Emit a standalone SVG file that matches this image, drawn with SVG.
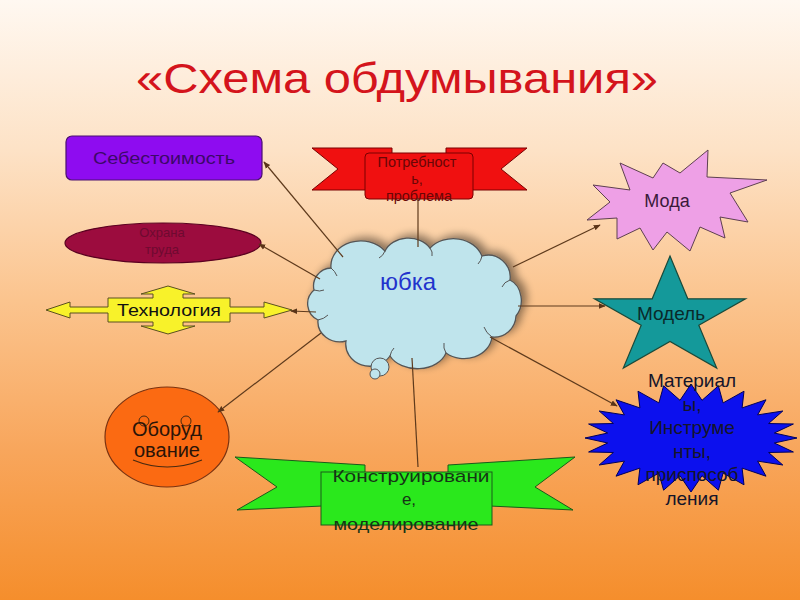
<svg xmlns="http://www.w3.org/2000/svg" width="800" height="600" viewBox="0 0 800 600">
<defs>
  <linearGradient id="bg" x1="0" y1="0" x2="0" y2="1">
    <stop offset="0" stop-color="#fff8f1"/>
    <stop offset="0.25" stop-color="#fde2c6"/>
    <stop offset="0.5" stop-color="#fbc48e"/>
    <stop offset="0.75" stop-color="#f8a65c"/>
    <stop offset="1" stop-color="#f58e2c"/>
  </linearGradient>
  <filter id="shadow" x="-20%" y="-20%" width="140%" height="140%">
    <feGaussianBlur in="SourceAlpha" stdDeviation="4"/>
    <feOffset dx="5" dy="-3" result="b"/>
    <feComponentTransfer><feFuncA type="linear" slope="0.45"/></feComponentTransfer>
    <feMerge><feMergeNode/><feMergeNode in="SourceGraphic"/></feMerge>
  </filter>
  <marker id="arr" viewBox="0 0 10 10" refX="9" refY="5" markerWidth="7" markerHeight="7" orient="auto" markerUnits="userSpaceOnUse">
    <path d="M0,1 L10,5 L0,9 Z" fill="#5a3418"/>
  </marker>
  <style>
    text { font-family: "Liberation Sans", Arial, sans-serif; text-anchor: middle; }
    .title { font-size: 43px; fill: #d4141c; }
    .edge { stroke: #5e3a1c; stroke-width: 1.2; fill: none; }
    .arrow { marker-end: url(#arr); }
  </style>
</defs>
<rect x="0" y="0" width="800" height="600" fill="url(#bg)"/>
<text class="title" x="397" y="93" textLength="522" lengthAdjust="spacingAndGlyphs">«Схема обдумывания»</text>

<g id="sebestoimost">
  <rect x="66" y="136" width="196" height="44" rx="6" fill="#8e0cf0" stroke="#4a1070" stroke-width="1.2"/>
  <text x="164" y="164" font-size="17" fill="#3c0868" textLength="142" lengthAdjust="spacingAndGlyphs">Себестоимость</text>
</g>

<g id="ohrana">
  <ellipse cx="163" cy="243" rx="98" ry="20" fill="#9c0c3e" stroke="#5a0020" stroke-width="1.2"/>
  <text x="162" y="237" font-size="13" fill="#6e0a30">Охрана</text>
  <text x="162" y="254" font-size="13" fill="#6e0a30">труда</text>
</g>

<g id="tehnologiya">
  <polygon points="46,310 70,302 70,307 108,307 108,298 153,298 153,294 141,294 168,286 195,294 183,294 183,298 230,298 230,307 264,307 264,302 292,310 264,318 264,313 230,313 230,322 183,322 183,326 195,326 168,334 141,326 153,326 153,322 108,322 108,313 70,313 70,318" fill="#f8f22a" stroke="#5a5020" stroke-width="1"/>
  <text x="169" y="316" font-size="16" fill="#111" textLength="104" lengthAdjust="spacingAndGlyphs">Технология</text>
</g>

<g id="potrebnost">
  <polygon points="312,148 392,148 392,190 312,190 338,169" fill="#f01010" stroke="#7a0000" stroke-width="1"/>
  <polygon points="446,148 527,148 501,169 527,190 446,190" fill="#f01010" stroke="#7a0000" stroke-width="1"/>
  <rect x="365" y="153" width="108" height="46" rx="4" fill="#f01010" stroke="#7a0000" stroke-width="1"/>
  <text x="417" y="167" font-size="14.5" fill="#6a0606">Потребност</text>
  <text x="417" y="184" font-size="14.5" fill="#6a0606">ь,</text>
  <text x="419" y="201" font-size="14.5" fill="#6a0606">проблема</text>
</g>

<g id="moda">
  <polygon points="593,185 630,190 620,163 653,178 663,163 680,173 708,150 707,177 767,180 730,193 748,222 720,217 725,238 700,227 690,251 667,232 653,250 640,228 617,239 617,218 587,220 610,202" fill="#eea0e6" stroke="#5e4050" stroke-width="1"/>
  <text x="667" y="207" font-size="18" fill="#3a1a3a">Мода</text>
</g>

<g id="model">
  <polygon points="670,256 687.8,298.8 745.5,298.8 698.8,325.2 716.7,368 670,341.5 623.3,368 641.2,325.2 594.5,298.8 652.2,298.8" fill="#14999a" stroke="#1a4a3a" stroke-width="1.2"/>
  <text x="671" y="320" font-size="19" fill="#0a2a2a">Модель</text>
</g>

<g id="materialy">
  <polygon points="797,438 774.3,443 793.4,452 768.6,452.5 782.8,465 757.6,461.1 766,476.2 742.1,468.1 744,484.8 723.1,473.1 718.4,490.2 702,475.7 691,492 680,475.7 663.6,490.2 658.9,473.1 638,484.8 639.9,468.1 616,476.2 624.4,461.1 599.2,465 613.4,452.5 588.6,452 607.7,443 585,438 607.7,433 588.6,424 613.4,423.5 599.2,411 624.4,414.9 616,399.8 639.9,407.9 638,391.2 658.9,402.9 663.6,385.8 680,400.3 691,384 702,400.3 718.4,385.8 723.1,402.9 744,391.2 742.1,407.9 766,399.8 757.6,414.9 782.8,411 768.6,423.5 793.4,424 774.3,433" fill="#0c10ee" stroke="#00005a" stroke-width="1"/>
  <g font-size="19" fill="#15152a">
    <text x="692" y="387">Материал</text>
    <text x="692" y="410.6">ы,</text>
    <text x="692" y="434.2">Инструме</text>
    <text x="692" y="457.8">нты,</text>
    <text x="692" y="481.4">приспособ</text>
    <text x="692" y="505">ления</text>
  </g>
</g>

<g id="oborudovanie">
  <ellipse cx="167" cy="437" rx="62" ry="50" fill="#fb6a12" stroke="#7a3210" stroke-width="1.2"/>
  <circle cx="144" cy="421" r="5" fill="none" stroke="#4a2a10" stroke-width="1"/>
  <circle cx="186" cy="421" r="5" fill="none" stroke="#4a2a10" stroke-width="1"/>
  <path d="M133,460 Q167,474 202,460" fill="none" stroke="#4a2a10" stroke-width="1.2"/>
  <text x="167" y="436" font-size="20" fill="#2a1408">Оборуд</text>
  <text x="167" y="457" font-size="20" fill="#2a1408">ование</text>
</g>

<g id="konstruirovanie">
  <polygon points="235,457 365,465 365,504 237,510 277,487" fill="#2ae81c" stroke="#1a5a1a" stroke-width="1"/>
  <polygon points="575,457 448,465 448,504 573,510 535,487" fill="#2ae81c" stroke="#1a5a1a" stroke-width="1"/>
  <rect x="321" y="472" width="171" height="53" fill="#2ae81c" stroke="#1a5a1a" stroke-width="1"/>
  <text x="411" y="482" font-size="17" fill="#163416" textLength="157" lengthAdjust="spacingAndGlyphs">Конструировани</text>
  <text x="409" y="505" font-size="17" fill="#163416">е,</text>
  <text x="406" y="530" font-size="17" fill="#163416" textLength="145" lengthAdjust="spacingAndGlyphs">моделирование</text>
</g>

<g id="yubka">
  <g filter="url(#shadow)">
    <path d="M331,268 A30,25 0 0 1 385,251 A25,20 0 0 1 430,248 A30,25 0 0 1 482,256 A22,22 0 0 1 510,280 A18,22 0 0 1 516,316 A22,22 0 0 1 492,337 A28,24 0 0 1 446,353 A30,22 0 0 1 390,356 A24,22 0 0 1 346,341 A22,20 0 0 1 318,320 A18,18 0 0 1 314,290 A18,18 0 0 1 331,268 Z" fill="#bfe4ec" stroke="#555" stroke-width="1.3"/>
  </g>
  <g fill="none" stroke="#555" stroke-width="1">
    <path d="M331,268 q4,3 6,8"/>
    <path d="M385,251 q-2,5 -6,7"/>
    <path d="M430,248 q3,4 2,8"/>
    <path d="M482,256 q-1,5 -4,8"/>
    <path d="M510,280 q-6,2 -8,7"/>
    <path d="M492,337 q-6,-4 -8,-10"/>
    <path d="M446,353 q-3,-5 -2,-10"/>
    <path d="M390,356 q1,-5 4,-8"/>
    <path d="M318,320 q6,-1 10,-5"/>
    <path d="M314,290 q6,2 10,0"/>
  </g>
  <circle cx="380" cy="367" r="9" fill="#bfe4ec" stroke="#555" stroke-width="1"/>
  <circle cx="375" cy="374" r="5" fill="#bfe4ec" stroke="#555" stroke-width="1"/>
  <text x="408" y="290" font-size="24" fill="#2233cc">юбка</text>
</g>

<g id="connectors">
  <line class="edge arrow" x1="343" y1="257" x2="264" y2="162"/>
  <line class="edge arrow" x1="320" y1="279" x2="259" y2="244"/>
  <line class="edge arrow" x1="316" y1="312" x2="291" y2="311"/>
  <line class="edge" x1="418" y1="247" x2="418" y2="198"/>
  <line class="edge arrow" x1="513" y1="267" x2="600" y2="225"/>
  <line class="edge arrow" x1="518" y1="306" x2="605" y2="306"/>
  <line class="edge arrow" x1="490" y1="337" x2="617" y2="406"/>
  <line class="edge arrow" x1="321" y1="333" x2="218" y2="412"/>
  <line class="edge" x1="412" y1="358" x2="418" y2="467"/>
</g>
</svg>
